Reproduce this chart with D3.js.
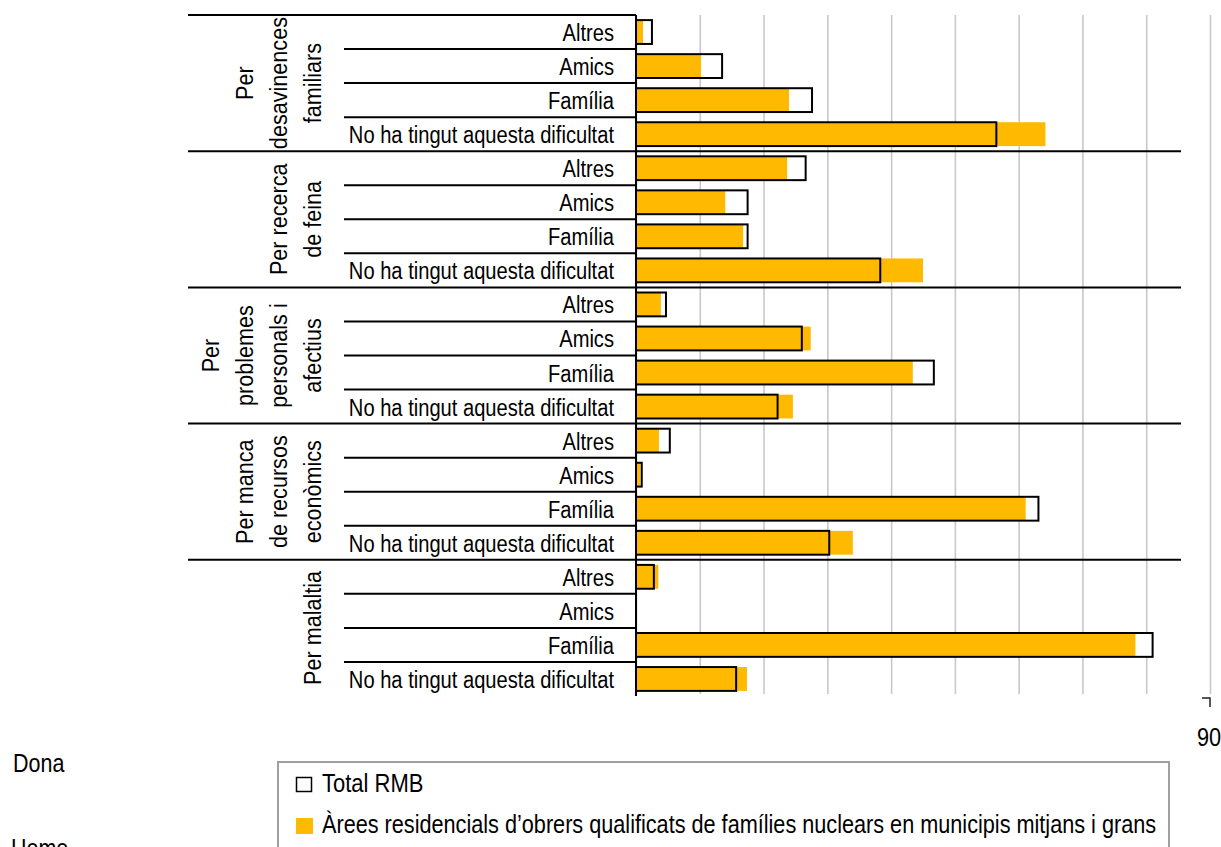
<!DOCTYPE html>
<html>
<head>
<meta charset="utf-8">
<script src="https://cdn.jsdelivr.net/npm/d3@7"></script>
<style>
  html, body { margin: 0; padding: 0; background: #fff; }
  svg { display: block; }
  text { font-family: "Liberation Sans", Arial, sans-serif; fill: #000; }
</style>
</head>
<body>
<svg id="chart" width="1221" height="847"></svg>
<script>
// ---- data ----
const groups = ["Per desavinences familiars", "Per recerca de feina", "Per problemes personals i afectius", "Per manca de recursos econòmics", "Per malaltia"];
const groupLabelLines = [
  ["Per", "desavinences", "familiars"],
  ["Per recerca", "de feina"],
  ["Per", "problemes", "personals i", "afectius"],
  ["Per manca", "de recursos", "econòmics"],
  ["Per malaltia"]
];
const subcats = ["Altres", "Amics", "Família", "No ha tingut aquesta dificultat"];
// values per group, in subcats order
const totalRMB = [
  2.5, 13.5, 27.6, 56.5,
  26.6, 17.5, 17.5, 38.3,
  4.7, 26.0, 46.7, 22.2,
  5.3, 0.9, 63.1, 30.3,
  2.8, 0, 81.0, 15.7
];
const arees = [
  1.1, 10.2, 24.0, 64.2,
  23.7, 14.0, 16.8, 45.0,
  3.9, 27.4, 43.4, 24.6,
  3.6, 0.7, 61.1, 34.0,
  3.5, 0, 78.3, 17.4
];
const xTicks = [0, 10, 20, 30, 40, 50, 60, 70, 80, 90];
const seriesNames = ["Total RMB", "Àrees residencials d’obrers qualificats de famílies nuclears en municipis mitjans i grans"];
const sideLabels = ["Dona", "Home"];

// ---- layout ----
const svg = d3.select("#chart");
const plot = { left: 636, right: 1210, top: 15, bottom: 696 };
const ORANGE = "#FFBA00";

// narrow text helper (horizontal compression like Arial Narrow)
function ntext(sel, tx, ty, txt, size, sx, anchor, rot) {
  return sel.append("text")
    .attr("transform", `translate(${tx},${ty})` + (rot ? ` rotate(${rot})` : "") + ` scale(${sx},1)`)
    .attr("font-size", size)
    .attr("text-anchor", anchor || "start")
    .text(txt);
}

const rows = [];
groups.forEach((g, gi) => subcats.forEach((s, si) => {
  const i = gi * subcats.length + si;
  rows.push({ key: g + "|" + s, group: g, gi, si, sub: s, total: totalRMB[i], ar: arees[i] });
}));

const x = d3.scaleLinear().domain([0, 90]).range([plot.left, plot.right]);
const y = d3.scaleBand().domain(rows.map(r => r.key))
  .range([plot.top, plot.bottom]).paddingInner(0.3).paddingOuter(0.15);
const step = y.step();
const rowTop = k => y(k) - step * 0.15;

// gridlines
const grid = svg.append("g").attr("transform", `translate(0,${plot.bottom - 2})`)
  .call(d3.axisBottom(x).tickValues(xTicks).tickSize(-(plot.bottom - 2 - plot.top)).tickFormat(""));
grid.select(".domain").remove();
grid.selectAll(".tick line").attr("stroke", "#c8c8c8").attr("stroke-width", 1.6);

// small tick stub at end of axis
svg.append("path")
  .attr("d", `M${x(90) - 8},698 H${x(90)} V707`)
  .attr("fill", "none").attr("stroke", "#222").attr("stroke-width", 1.5);

// tick label 90
const lblAxis = svg.append("g").attr("transform", `translate(0,${plot.bottom})`)
  .call(d3.axisBottom(x).tickValues([90]).tickSize(0).tickPadding(0));
lblAxis.select(".domain").remove();
lblAxis.selectAll(".tick").attr("transform", `translate(${x(90) - 1},0)`);
lblAxis.selectAll("text").attr("font-size", 25).attr("dy", 0).attr("y", 0)
  .attr("transform", "translate(0,50) scale(0.87,1)")
  .style("font-family", '"Liberation Sans", Arial, sans-serif');

// bars: total white fill, orange, total outline
const bars = svg.append("g");
bars.selectAll("rect.tw").data(rows.filter(d => d.total > 0)).join("rect")
  .attr("class", "tw")
  .attr("x", x(0)).attr("y", d => y(d.key))
  .attr("width", d => x(d.total) - x(0)).attr("height", y.bandwidth())
  .attr("fill", "#fff");
bars.selectAll("rect.ar").data(rows.filter(d => d.ar > 0)).join("rect")
  .attr("class", "ar")
  .attr("x", x(0)).attr("y", d => y(d.key))
  .attr("width", d => x(d.ar) - x(0)).attr("height", y.bandwidth())
  .attr("fill", ORANGE);
bars.selectAll("rect.to").data(rows.filter(d => d.total > 0)).join("rect")
  .attr("class", "to")
  .attr("x", x(0)).attr("y", d => y(d.key))
  .attr("width", d => x(d.total) - x(0)).attr("height", y.bandwidth())
  .attr("fill", "none").attr("stroke", "#000").attr("stroke-width", 2);

// category axis lines
const lines = svg.append("g").attr("stroke", "#000").attr("stroke-width", 2);
lines.append("line").attr("x1", 188).attr("x2", plot.left).attr("y1", plot.top).attr("y2", plot.top);
groups.forEach((g, gi) => {
  if (gi === 0) return;
  const yy = rowTop(g + "|" + subcats[0]);
  lines.append("line").attr("x1", 188).attr("x2", 1181).attr("y1", yy).attr("y2", yy);
});
rows.filter(r => r.si > 0).forEach(r => {
  const yy = rowTop(r.key);
  lines.append("line").attr("x1", 344).attr("x2", plot.left).attr("y1", yy).attr("y2", yy);
});
lines.append("line").attr("x1", plot.left).attr("x2", plot.left).attr("y1", plot.top).attr("y2", plot.bottom);

// sub-category labels
const subG = svg.append("g");
rows.forEach(d => {
  ntext(subG, 614, y(d.key) + y.bandwidth() / 2 + 9, d.sub, 23, 0.875, "end");
});

// group labels (rotated)
const grpG = svg.append("g");
groups.forEach((g, gi) => {
  const top = rowTop(g + "|" + subcats[0]);
  const bot = rowTop(g + "|" + subcats[3]) + step;
  const cy = (top + bot) / 2;
  const linesTxt = groupLabelLines[gi];
  const n = linesTxt.length;
  linesTxt.forEach((t, li) => {
    const bx = 321 - (n - 1 - li) * 34;
    ntext(grpG, bx, cy, t, 24, 0.9, "middle", -90);
  });
});

// side labels
ntext(svg, 13, 772, sideLabels[0], 25, 0.86, "start");
ntext(svg, 11, 857, sideLabels[1], 25, 0.86, "start");

// legend
const lg = svg.append("g");
lg.append("rect").attr("x", 278).attr("y", 762).attr("width", 891).attr("height", 120)
  .attr("fill", "#fff").attr("stroke", "#a0a0a0").attr("stroke-width", 2);
lg.append("rect").attr("x", 296.5).attr("y", 777.5).attr("width", 15).attr("height", 14)
  .attr("fill", "#fff").attr("stroke", "#000").attr("stroke-width", 1.5);
ntext(lg, 322, 792, seriesNames[0], 25, 0.88, "start");
lg.append("rect").attr("x", 296).attr("y", 818).attr("width", 17).attr("height", 16).attr("fill", ORANGE);
ntext(lg, 322, 833, seriesNames[1], 25, 0.867, "start");
</script>
</body>
</html>
